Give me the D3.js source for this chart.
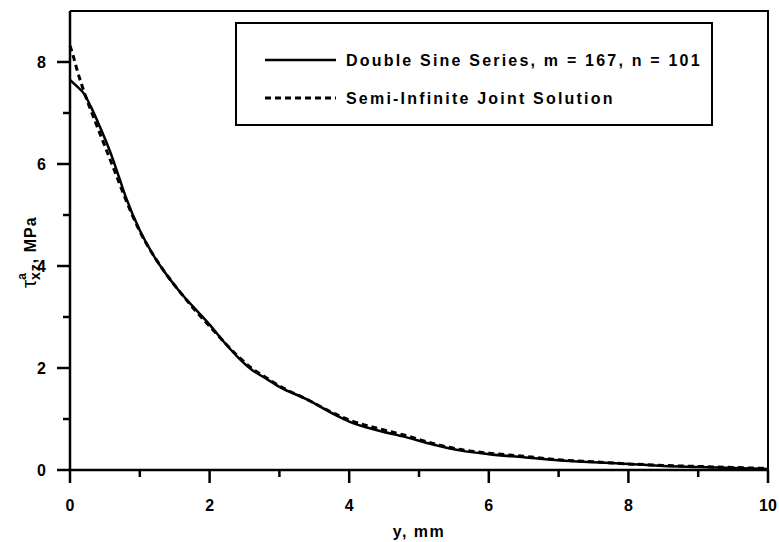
<!DOCTYPE html>
<html>
<head>
<meta charset="utf-8">
<script src="https://cdn.jsdelivr.net/npm/d3@7"></script>
<style>
	body { margin: 0; background: #fff; }
	svg text { font-family: "Liberation Sans", Arial, sans-serif; font-weight: bold; fill: #000; }
</style>
</head>
<body>
<svg id="chart" width="779" height="542"></svg>
<script>
// distance y (mm)
const yPos = [0, 0.1, 0.2, 0.3, 0.4, 0.5, 0.6, 0.7, 0.8, 1.0, 1.2, 1.4, 1.6, 1.8, 2.0, 2.2, 2.4, 2.6, 2.8, 3.0,
	3.4, 3.8, 4.0, 4.4, 4.8, 5.2, 5.6, 6.0, 6.5, 7.0, 7.5, 8.0, 8.5, 9.0, 9.5, 10];
// double sine series, m = 167, n = 101
const sineSeries = [7.65, 7.52, 7.38, 7.12, 6.82, 6.5, 6.15, 5.75, 5.35, 4.7, 4.2, 3.8, 3.45, 3.15, 2.85, 2.52,
	2.22, 1.97, 1.8, 1.63, 1.38, 1.08, 0.95, 0.78, 0.65, 0.5, 0.38, 0.31, 0.25, 0.19, 0.15, 0.12, 0.08, 0.06, 0.04, 0.02];
// semi-infinite joint solution
const jointX = [0, 0.05, 0.1, 0.2, 0.3, 0.4, 0.5, 0.6, 0.7, 0.8, 1.0, 1.2, 1.4, 1.6, 1.8, 2.0, 2.2, 2.4, 2.6, 2.8, 3.0,
	3.4, 3.8, 4.0, 4.4, 4.8, 5.2, 5.6, 6.0, 6.5, 7.0, 7.5, 8.0, 8.5, 9.0, 9.5, 10];
const jointSolution = [8.32, 8.1, 7.85, 7.42, 7.05, 6.7, 6.35, 6.0, 5.65, 5.3, 4.68, 4.2, 3.8, 3.45, 3.12, 2.82, 2.52,
	2.24, 2.0, 1.82, 1.65, 1.38, 1.1, 0.98, 0.82, 0.68, 0.52, 0.4, 0.33, 0.27, 0.2, 0.16, 0.12, 0.09, 0.07, 0.05, 0.03];

const xMajor = [0, 2, 4, 6, 8, 10];
const xMinor = [1, 3, 5, 7, 9];
const yMajor = [0, 2, 4, 6, 8];
const yMinor = [1, 3, 5, 7];
const legendLabels = ["Double Sine Series, m = 167, n = 101", "Semi-Infinite Joint Solution"];

const margin = { left: 70, top: 11, right: 11, bottom: 72 };
const width = 779, height = 542;

const svg = d3.select("#chart");

const x = d3.scaleLinear().domain([0, 10]).range([margin.left, width - margin.right]);
const y = d3.scaleLinear().domain([0, 9]).range([height - margin.bottom, margin.top]);

// ticks (outward, majors longer)
const ticks = svg.append("g");
ticks.selectAll("line.xt")
	.data(xMajor.map(v => [v, 13]).concat(xMinor.map(v => [v, 7])))
	.join("line")
	.attr("class", "xt")
	.attr("x1", d => x(d[0])).attr("x2", d => x(d[0]))
	.attr("y1", y(0)).attr("y2", d => y(0) + d[1])
	.attr("stroke", "#000")
	.attr("stroke-width", 2.5);
ticks.selectAll("line.yt")
	.data(yMajor.map(v => [v, 13]).concat(yMinor.map(v => [v, 7])))
	.join("line")
	.attr("class", "yt")
	.attr("x1", x(0)).attr("x2", d => x(0) - d[1])
	.attr("y1", d => y(d[0])).attr("y2", d => y(d[0]))
	.attr("stroke", "#000")
	.attr("stroke-width", 2.5);

// frame
svg.append("path")
	.attr("d", `M${x(0)},${y(9)}H${x(10)}V${y(0)}`)
	.attr("fill", "none")
	.attr("stroke", "#000")
	.attr("stroke-width", 2);
svg.append("path")
	.attr("d", `M${x(0)},${y(9)}V${y(0)}H${x(10)}`)
	.attr("fill", "none")
	.attr("stroke", "#000")
	.attr("stroke-width", 2.5);

// tick labels
svg.selectAll("text.xl")
	.data(xMajor)
	.join("text")
	.attr("class", "xl")
	.attr("x", d => x(d))
	.attr("y", y(0) + 41)
	.attr("text-anchor", "middle")
	.attr("font-size", 16)
	.text(d => d);
svg.selectAll("text.yl")
	.data(yMajor)
	.join("text")
	.attr("class", "yl")
	.attr("x", 46)
	.attr("y", d => y(d) + 6)
	.attr("text-anchor", "end")
	.attr("font-size", 16)
	.text(d => d);

// axis titles
svg.append("text")
	.attr("x", (x(0) + x(10)) / 2)
	.attr("y", 537)
	.attr("text-anchor", "middle")
	.attr("font-size", 16)
	.attr("letter-spacing", 1.5)
	.text("y, mm");

const yTitle = svg.append("text")
	.attr("transform", "translate(36,288) rotate(-90)")
	.attr("font-size", 16)
	.attr("letter-spacing", 1);
yTitle.append("tspan").attr("font-size", 21).attr("font-weight", "normal").text("τ");
yTitle.append("tspan").attr("font-size", 12).attr("dy", -10).attr("dx", -1).text("a");
yTitle.append("tspan").attr("font-size", 14).attr("dy", 14).attr("dx", -8).text("xz");
yTitle.append("tspan").attr("dy", -4).text(", MPa");

// curves
const line = d3.line().curve(d3.curveMonotoneX);

svg.append("path")
	.datum(yPos.map((d, i) => [x(d), y(sineSeries[i])]))
	.attr("d", line)
	.attr("fill", "none")
	.attr("stroke", "#000")
	.attr("stroke-width", 2.5);

svg.append("path")
	.datum(jointX.map((d, i) => [x(d), y(jointSolution[i])]))
	.attr("d", line)
	.attr("fill", "none")
	.attr("stroke", "#000")
	.attr("stroke-width", 3)
	.attr("stroke-dasharray", "6,4");

// legend
const legend = svg.append("g");
legend.append("rect")
	.attr("x", 236).attr("y", 23)
	.attr("width", 476).attr("height", 102)
	.attr("fill", "#fff")
	.attr("stroke", "#000")
	.attr("stroke-width", 2);

const dashes = [null, "6,4"];
legendLabels.forEach((label, i) => {
	const ly = 60 + i * 38;
	legend.append("line")
		.attr("x1", 265).attr("x2", 336)
		.attr("y1", ly).attr("y2", ly)
		.attr("stroke", "#000")
		.attr("stroke-width", i === 0 ? 2.5 : 3)
		.attr("stroke-dasharray", dashes[i]);
	legend.append("text")
		.attr("x", 346).attr("y", ly + 6)
		.attr("font-size", 16)
		.attr("letter-spacing", 2.2)
		.text(label);
});
</script>
</body>
</html>
